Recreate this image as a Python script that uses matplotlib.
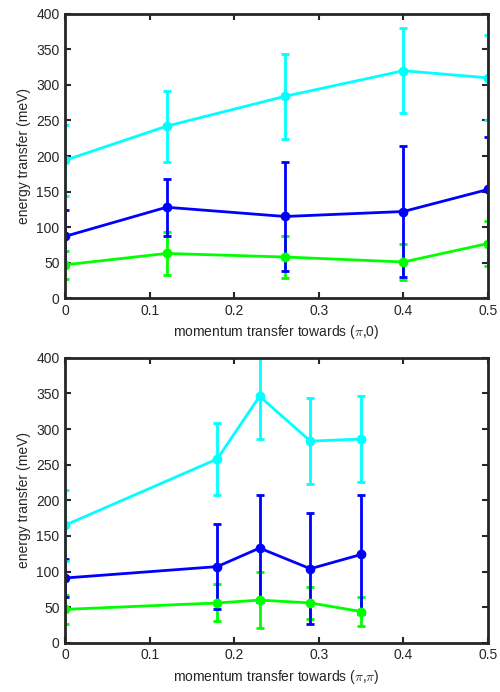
import numpy as np
import matplotlib.pyplot as plt

plt.rcParams['font.family'] = ['Liberation Sans', 'DejaVu Sans']
plt.rcParams['mathtext.fontset'] = 'cm'

# (pi,0) direction
q_pi0 = [0.0, 0.12, 0.26, 0.40, 0.50]
high_pi0 = [194, 242, 284, 320, 310]
high_pi0_err = [50, 50, 60, 60, 60]
mid_pi0 = [87, 128, 115, 122, 153]
mid_pi0_err = [37, 40, 77, 92, 74]
low_pi0 = [47, 63, 58, 51, 77]
low_pi0_err = [20, 30, 29, 25, 32]

# (pi,pi) direction
q_pipi = [0.0, 0.18, 0.23, 0.29, 0.35]
high_pipi = [165, 258, 346, 283, 286]
high_pipi_err = [50, 50, 60, 60, 60]
mid_pipi = [91, 107, 133, 104, 124]
mid_pipi_err = [26, 60, 75, 78, 83]
low_pipi = [47, 56, 60, 56, 44]
low_pipi_err = [20, 26, 39, 22, 21]

fig = plt.figure(figsize=(5.0, 6.92), dpi=100)
ax1 = fig.add_axes([0.13, 0.569, 0.846, 0.411])
ax2 = fig.add_axes([0.13, 0.071, 0.846, 0.412])


def draw(ax, q, series, xlabel):
    for y, e, c in series:
        ax.errorbar(q, y, yerr=e, color=c, lw=2, marker='o', ms=6,
                    capsize=3, capthick=2, elinewidth=2, clip_on=True)
    ax.set_xlim(0, 0.5)
    ax.set_ylim(0, 400)
    ax.set_xticks([0, 0.1, 0.2, 0.3, 0.4, 0.5])
    ax.set_xticklabels(['0', '0.1', '0.2', '0.3', '0.4', '0.5'])
    ax.set_yticks(np.arange(0, 401, 50))
    ax.tick_params(direction='in', top=True, right=True, length=4, width=1.5,
                   labelsize=10, colors='#262626', pad=4)
    for s in ax.spines.values():
        s.set_linewidth(2)
        s.set_color('#262626')
    ax.set_ylabel('energy transfer (meV)', fontsize=10, color='#262626')
    ax.set_xlabel(xlabel, fontsize=10, color='#262626')


draw(ax1, q_pi0, [(low_pi0, low_pi0_err, '#00ff00'),
                  (mid_pi0, mid_pi0_err, '#0000ff'),
                  (high_pi0, high_pi0_err, '#00ffff')],
     r'momentum transfer towards ($\pi$,0)')
draw(ax2, q_pipi, [(low_pipi, low_pipi_err, '#00ff00'),
                   (mid_pipi, mid_pipi_err, '#0000ff'),
                   (high_pipi, high_pipi_err, '#00ffff')],
     r'momentum transfer towards ($\pi$,$\pi$)')

fig.savefig('out.png', dpi=100)
